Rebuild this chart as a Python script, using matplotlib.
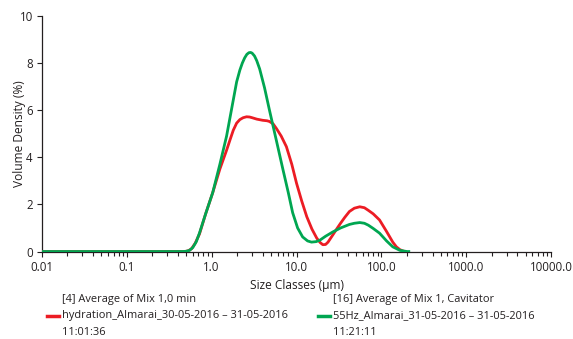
import numpy as np
import matplotlib
matplotlib.use("Agg")
import matplotlib.pyplot as plt
from matplotlib.ticker import FixedLocator, FixedFormatter, LogLocator, NullFormatter

plt.rcParams['font.family'] = ['Open Sans', 'DejaVu Sans']
plt.rcParams['font.size'] = 8

# size classes (um) and volume density (%)
x_red = [0.01, 0.48, 0.53, 0.58, 0.64, 0.72, 0.85, 1.03, 1.25, 1.5, 1.65, 1.8, 1.97, 2.15,
         2.35, 2.58, 2.8, 3.0, 3.4, 4.0, 4.5, 4.8, 5.3, 5.8, 6.6, 7.6, 8.8, 10, 11.5,
         13.2, 15.2, 17.3, 19, 20.4, 22, 23.5, 26.7, 30, 33, 37, 42, 48, 55.6, 63, 70,
         80, 95, 115, 136, 150, 165, 180, 190]
y_red = [0, 0, 0.03, 0.12, 0.35, 0.75, 1.6, 2.5, 3.5, 4.3, 4.75, 5.15, 5.45, 5.6,
         5.68, 5.72, 5.71, 5.68, 5.62, 5.57, 5.55, 5.52, 5.42, 5.22, 4.9, 4.45, 3.7, 2.9, 2.15,
         1.48, 0.95, 0.57, 0.38, 0.29, 0.3, 0.4, 0.7, 0.98, 1.2, 1.45, 1.7, 1.84, 1.9, 1.86, 1.75,
         1.6, 1.34, 0.85, 0.4, 0.2, 0.08, 0.02, 0]

x_green = [0.01, 0.45, 0.5, 0.55, 0.6, 0.66, 0.72, 0.85, 1.03, 1.25, 1.5, 1.75, 1.97, 2.15,
           2.3, 2.45, 2.6, 2.75, 2.88, 3.0, 3.2, 3.4, 3.68, 4.2, 4.8, 5.8, 6.9, 8.0, 9.0,
           10.3, 11.8, 13.5, 15, 17, 18.8, 22, 26.7, 33, 42, 48, 55.6, 63, 70, 80, 95,
           115, 136, 165, 200, 210]
y_green = [0, 0, 0.01, 0.05, 0.17, 0.42, 0.79, 1.6, 2.5, 3.7, 4.9, 6.2, 7.2, 7.7,
           8.0, 8.22, 8.37, 8.44, 8.45, 8.42, 8.3, 8.1, 7.75, 6.95, 6.0, 4.7, 3.5, 2.5, 1.65,
           1.0, 0.62, 0.45, 0.4, 0.42, 0.48, 0.65, 0.83, 1.0, 1.15, 1.2, 1.23, 1.2, 1.12, 0.98, 0.78,
           0.45, 0.2, 0.05, 0, 0]

label_red = "[4] Average of Mix 1,0 min\nhydration_Almarai_30-05-2016 \u2013 31-05-2016\n11:01:36"
label_green = "[16] Average of Mix 1, Cavitator\n55Hz_Almarai_31-05-2016 \u2013 31-05-2016\n11:21:11"

major_ticks = [0.01, 0.1, 1, 10, 100, 1000, 10000]
major_labels = ['0.01', '0.1', '1.0', '10.0', '100.0', '1000.0', '10000.0']

fig = plt.figure(figsize=(5.73, 3.39), dpi=100)
ax = fig.add_axes([0.073, 0.258, 0.889, 0.695])

ax.plot(x_red, y_red, color='#ec1c24', lw=2.0, label=label_red, zorder=3)
ax.plot(x_green, y_green, color='#00a651', lw=2.0, label=label_green, zorder=4)

ax.set_xscale('log')
ax.set_xlim(0.01, 10000)
ax.set_ylim(0, 10)
ax.xaxis.set_major_locator(FixedLocator(major_ticks))
ax.xaxis.set_major_formatter(FixedFormatter(major_labels))
ax.xaxis.set_minor_locator(LogLocator(base=10, subs=np.arange(2, 10)))
ax.xaxis.set_minor_formatter(NullFormatter())
ax.set_yticks([0, 2, 4, 6, 8, 10])

for side in ['top', 'right']:
    ax.spines[side].set_visible(False)
for side in ['left', 'bottom']:
    ax.spines[side].set_color('#231f20')
    ax.spines[side].set_linewidth(0.9)
ax.tick_params(which='both', direction='out', color='#231f20', width=0.8, labelcolor='#231f20')
ax.tick_params(which='major', length=3.5, pad=3, labelsize=8.3)
ax.tick_params(which='minor', length=3)

ax.set_xlabel('Size Classes (\u03bcm)', color='#231f20', fontsize=8.6, labelpad=4)
ax.set_ylabel('Volume Density (%)', color='#231f20', fontsize=8.6)
ax.yaxis.set_label_coords(-0.031, 0.5)

leg = fig.legend(loc='upper left', bbox_to_anchor=(0.074, 0.145), ncol=2, frameon=False,
                 handlelength=1.1, handletextpad=0.3, columnspacing=2.7, fontsize=7.9,
                 borderaxespad=0)
for line in leg.get_lines():
    line.set_linewidth(2.5)
for txt in leg.get_texts():
    txt.set_linespacing(1.65)
    txt.set_color('#231f20')

fig.savefig('out.png', dpi=100)
